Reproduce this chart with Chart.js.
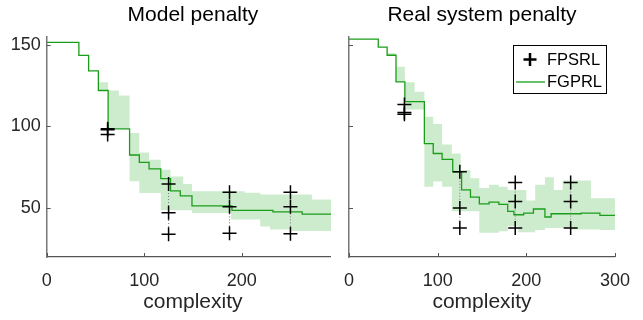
<!DOCTYPE html>
<html lang="en">
<head>
<meta charset="UTF-8">
<title>Model vs real system penalty</title>
<script src="https://cdn.jsdelivr.net/npm/chart.js"></script>
<style>
    body { margin: 0; background: #fff; }
    #wrap { position: relative; width: 643px; height: 320px; overflow: hidden; }
    canvas { position: absolute; top: 0; background: #fff; }
    #left { left: 0; }
    #right { left: 331px; }
</style>
</head>
<body>
<div id="wrap">
    <canvas id="left" width="643" height="320"></canvas>
    <canvas id="right" width="312" height="320"></canvas>
</div>
<script>
// axes
const yTicks = [50, 100, 150];
const xTicksLeft = [0, 100, 200];
const xTicksRight = [0, 100, 200, 300];
const legendLabels = ['FPSRL', 'FGPRL'];

// complexities where FPSRL was run (3 runs each)
const runX = [62.5, 125, 187.5, 250];

// Model penalty
const modelMeanX = [0, 33, 43, 53, 63, 85, 95, 105, 117, 127, 137, 149, 190, 232, 262, 300];
const modelMeanY = [151.5, 143.5, 134, 122, 98.5, 82.5, 78, 74, 68, 60.5, 57.5, 51.3, 48.6, 47.7, 46.3, 46.3];
const modelBandX = [0, 33, 43, 53, 63, 74, 85, 95, 105, 117, 127, 140, 149, 189, 203, 219, 229, 250, 272, 300];
const modelUpper = [151.5, 143.5, 134, 127, 122, 119, 96, 84, 79.6, 73.4, 69.3, 64.8, 60.3, 60.3, 59.3, 58.3, 58.3, 58.3, 55.3, 55.3];
const modelLower = [151.5, 143.5, 134, 122, 98.5, 98.5, 66.4, 59.2, 59.2, 48.6, 48.6, 48.6, 47, 43, 43, 38.7, 36.8, 36, 36, 36];
const modelRuns = [[98.5, 98, 95], [64.7, 47.1, 33.9], [59.6, 50.8, 34.5], [59.6, 50.8, 34.2]];

// Real system penalty
const realMeanX = [0, 33, 43, 53, 63, 85, 95, 105, 117, 127, 137, 147, 158, 169, 179, 186, 197, 208, 221, 228, 262, 283, 300];
const realMeanY = [153.5, 148.6, 143.6, 127.3, 115.2, 89.5, 83.4, 79.8, 72.2, 61.1, 56.7, 52.6, 53.6, 52.3, 48, 45.9, 46.9, 49.4, 44.5, 46.5, 46.9, 45.5, 45.5];
const realBandX = [0, 33, 43, 53, 63, 74, 85, 95, 105, 116, 126, 137, 147, 158, 169, 179, 191, 200, 210, 221, 231, 241, 250, 273, 283, 300];
const realUpper = [153.5, 148.6, 145, 136.5, 127, 121.3, 106, 101.5, 89, 83.4, 73.3, 68.2, 62.2, 64.2, 63, 61.1, 61.1, 54.6, 64.2, 68.8, 61.1, 66.8, 66.8, 56, 56, 56];
const realLower = [153.5, 148.6, 143.6, 127.3, 110.3, 110.3, 63.1, 66.2, 63.1, 48, 48, 48, 34.8, 34.8, 35.8, 38.8, 35.2, 35.2, 36.6, 37.8, 37.8, 37.8, 36.8, 36.8, 36.6, 36.6];
const realRuns = [[113.4, 108.5, 107.5], [72.2, 50, 37.8], [65.6, 54, 37.8], [65.6, 54, 37.8]];

const GREEN = '#1a9e1a';
const BAND = '#cdeccd';
const FONT = '"Liberation Sans", Arial, Helvetica, sans-serif';

Chart.defaults.font.family = FONT;
Chart.defaults.color = '#262626';

function pts(xs, ys) {
    return xs.map((x, i) => ({ x: x, y: ys[i] }));
}

function buildDatasets(meanX, meanY, bandX, upper, lower, runs) {
    const crosses = [];
    runX.forEach((x, i) => runs[i].forEach(y => crosses.push({ x: x, y: y })));
    const sets = [{
        data: crosses,
        showLine: false,
        pointStyle: 'cross',
        pointRadius: 7,
        borderColor: '#000',
        borderWidth: 1.5,
        order: 0
    }];
    // dotted range line between the runs
    runX.forEach((x, i) => {
        sets.push({
            data: [{ x: x, y: Math.max(...runs[i]) }, { x: x, y: Math.min(...runs[i]) }],
            borderColor: '#777',
            borderWidth: 1,
            borderDash: [1, 2],
            pointRadius: 0,
            order: 1
        });
    });
    // each value holds until the next x
    sets.push({
        data: pts(meanX, meanY),
        stepped: 'before',
        borderColor: GREEN,
        borderWidth: 1.3,
        pointRadius: 0,
        order: 2
    });
    sets.push({
        data: pts(bandX, upper),
        stepped: 'before',
        borderColor: 'transparent',
        borderWidth: 0,
        backgroundColor: BAND,
        fill: '+1',
        pointRadius: 0,
        order: 3
    });
    sets.push({
        data: pts(bandX, lower),
        stepped: 'before',
        borderColor: 'transparent',
        borderWidth: 0,
        fill: false,
        pointRadius: 0,
        order: 4
    });
    return sets;
}

// matlab style ticks pointing into the plot
const inTicks = {
    id: 'inTicks',
    afterDraw(chart) {
        const { ctx, chartArea: a, scales } = chart;
        ctx.save();
        ctx.strokeStyle = '#555';
        ctx.lineWidth = 1;
        ctx.beginPath();
        scales.y.ticks.forEach(t => {
            const py = Math.round(scales.y.getPixelForValue(t.value)) + 0.5;
            ctx.moveTo(a.left, py);
            ctx.lineTo(a.left + 4, py);
        });
        scales.x.ticks.forEach(t => {
            const px = Math.round(scales.x.getPixelForValue(t.value)) + 0.5;
            ctx.moveTo(px, a.bottom);
            ctx.lineTo(px, a.bottom - 4);
        });
        ctx.stroke();
        ctx.restore();
    }
};

const legendBox = {
    id: 'legendBox',
    afterDraw(chart) {
        const { ctx, chartArea: a } = chart;
        const w = 93, h = 48;
        const L = Math.round(a.right - 9 - w), T = Math.round(a.top + 8);
        ctx.save();
        ctx.fillStyle = '#fff';
        ctx.fillRect(L, T, w, h);
        ctx.strokeStyle = '#000';
        ctx.lineWidth = 1;
        ctx.strokeRect(L + 0.5, T + 0.5, w, h);
        // cross marker
        const cx = L + 17, cy = T + 14.5;
        ctx.lineWidth = 2.5;
        ctx.beginPath();
        ctx.moveTo(cx - 6.5, cy); ctx.lineTo(cx + 6.5, cy);
        ctx.moveTo(cx, cy - 6.5); ctx.lineTo(cx, cy + 6.5);
        ctx.stroke();
        // line sample
        ctx.strokeStyle = GREEN;
        ctx.lineWidth = 1.3;
        ctx.beginPath();
        ctx.moveTo(L + 3, T + 37);
        ctx.lineTo(L + 32, T + 37);
        ctx.stroke();
        ctx.fillStyle = '#000';
        ctx.font = '16.5px ' + FONT;
        ctx.textBaseline = 'middle';
        ctx.fillText(legendLabels[0], L + 34, T + 15);
        ctx.fillText(legendLabels[1], L + 34, T + 37);
        ctx.restore();
    }
};

function makeChart(id, title, datasets, xTicks, opts) {
    return new Chart(document.getElementById(id), {
        type: 'line',
        data: { datasets: datasets },
        plugins: opts.plugins,
        options: {
            responsive: false,
            animation: false,
            events: [],
            devicePixelRatio: 1,
            layout: { padding: { left: 0, right: opts.padRight, top: 0, bottom: 0 } },
            plugins: {
                legend: { display: false },
                tooltip: { enabled: false },
                title: {
                    display: true,
                    text: title,
                    fullSize: false,
                    color: '#000',
                    font: { size: 21, weight: 'normal', lineHeight: 1.15 },
                    padding: { top: 3, bottom: 9.5 }
                }
            },
            scales: {
                x: {
                    type: 'linear',
                    min: 0,
                    max: 300,
                    afterBuildTicks: s => { s.ticks = xTicks.map(v => ({ value: v })); },
                    afterFit: s => { s.height = 63; },
                    grid: { display: true, drawOnChartArea: false, drawTicks: false },
                    border: { display: true, color: '#555', width: 1.2 },
                    ticks: { font: { size: 18 }, padding: 13, maxRotation: 0 },
                    title: {
                        display: true,
                        text: 'complexity',
                        color: '#262626',
                        font: { size: 21, lineHeight: 1.15 },
                        padding: { top: 0, bottom: 6 }
                    }
                },
                y: {
                    type: 'linear',
                    min: 20,
                    max: 155,
                    afterBuildTicks: s => { s.ticks = yTicks.map(v => ({ value: v })); },
                    afterFit: s => { s.width = opts.yWidth; },
                    grid: { display: true, drawOnChartArea: false, drawTicks: false },
                    border: { display: true, color: '#777', width: 1.5 },
                    ticks: { display: opts.yLabels, font: { size: 18 }, padding: 6 }
                }
            }
        }
    });
}

makeChart('left', 'Model penalty',
    buildDatasets(modelMeanX, modelMeanY, modelBandX, modelUpper, modelLower, modelRuns),
    xTicksLeft,
    { padRight: 303.8, yWidth: 46.7, yLabels: true, plugins: [inTicks] });

makeChart('right', 'Real system penalty',
    buildDatasets(realMeanX, realMeanY, realBandX, realUpper, realLower, realRuns),
    xTicksRight,
    { padRight: 15, yWidth: 7, yLabels: false, plugins: [inTicks, legendBox] });
</script>
</body>
</html>
